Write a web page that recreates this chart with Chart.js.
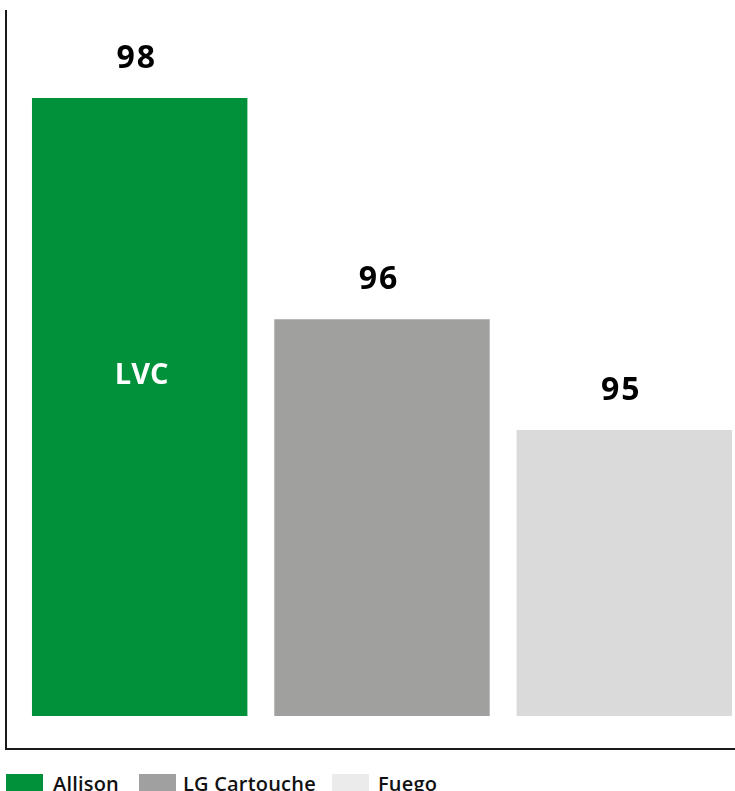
<!DOCTYPE html>
<html>
<head>
<meta charset="utf-8">
<script src="https://cdn.jsdelivr.net/npm/chart.js@4/dist/chart.umd.min.js"></script>
<style>
  html, body { margin: 0; padding: 0; background: #fff; overflow: hidden; }
  #frame { position: relative; width: 735px; height: 791px; overflow: hidden; }
  #plot { position: absolute; left: 0; top: 0; width: 758px; height: 760px; }
  .key { position: absolute; top: 774px; font: 600 20px 'Open Sans', sans-serif; color: #111; }
  .key i { position: absolute; left: 0; top: 0; width: 37px; height: 22px; }
  .key span { position: absolute; top: -1px; white-space: nowrap; line-height: 22px; letter-spacing: 0.2px; }
</style>
</head>
<body>
<div id="frame">
  <div id="plot"><canvas id="c"></canvas></div>
  <div id="legend"></div>
</div>
<script>
  // Brands compared, their scores and colours
  const SERIES = ["Allison", "LG Cartouche", "Fuego"];
  const SCORES = [98, 96, 95];
  const BAR_COLORS = ["#01913a", "#a0a09f", "#dadada"];
  const KEY_COLORS = ["#01913a", "#a0a0a0", "#ebebeb"];
  const INNER_LABEL = "LVC"; // printed inside the first bar

  // value-axis window: bars rise from a floor above the axis line
  const Y_MIN = 92.118, Y_MAX = 98.786, BAR_FLOOR = 92.416;
  const FONT = "'Open Sans', sans-serif";

  const valueLabels = {
    id: "valueLabels",
    afterDatasetsDraw(chart) {
      const { ctx } = chart;
      ctx.save();
      ctx.textAlign = "center";
      ctx.textBaseline = "alphabetic";
      chart.data.datasets.forEach((ds, i) => {
        const el = chart.getDatasetMeta(i).data[0];
        ctx.fillStyle = "#000";
        ctx.font = `700 32px ${FONT}`;
        ctx.letterSpacing = "2px";
        ctx.fillText(ds.data[0], el.x - 3, el.y - 30);
        ctx.letterSpacing = "0px";
        if (i === 0) {
          // centre label sits a bit above the middle of the bar
          const y = el.y + (el.base - el.y) * 0.447;
          ctx.fillStyle = "#fff";
          ctx.font = `700 29px ${FONT}`;
          ctx.textBaseline = "middle";
          ctx.fillText(INNER_LABEL, el.x + 2, y + 1);
          ctx.textBaseline = "alphabetic";
        }
      });
      ctx.restore();
    },
  };

  new Chart(document.getElementById("c"), {
    type: "bar",
    data: {
      labels: [""],
      datasets: SERIES.map((name, i) => ({
        label: name,
        data: [SCORES[i]],
        backgroundColor: BAR_COLORS[i],
        borderWidth: 0,
        base: BAR_FLOOR,
        categoryPercentage: 0.9667,
        barPercentage: 0.889,
      })),
    },
    options: {
      responsive: true,
      maintainAspectRatio: false,
      animation: false,
      layout: { padding: { left: 6, top: 11, right: 0, bottom: 11 } },
      plugins: { legend: { display: false }, tooltip: { enabled: false } },
      scales: {
        x: {
          grid: { display: false, drawTicks: false },
          ticks: { display: false },
          border: { display: true, color: "#1a1a1a", width: 2 },
        },
        y: {
          min: Y_MIN,
          max: Y_MAX,
          grid: { display: false, drawTicks: false },
          ticks: { display: false },
          border: { display: true, color: "#1a1a1a", width: 2 },
        },
      },
    },
    plugins: [valueLabels],
  });

  // legend row along the bottom edge
  const KEY_LEFT = [6, 139, 332];
  const TEXT_GAP = [47, 44, 46];
  const legend = document.getElementById("legend");
  SERIES.forEach((name, i) => {
    const item = document.createElement("div");
    item.className = "key";
    item.style.left = KEY_LEFT[i] + "px";
    item.innerHTML = `<i style="background:${KEY_COLORS[i]}"></i><span style="left:${TEXT_GAP[i]}px">${name}</span>`;
    legend.appendChild(item);
  });
</script>
</body>
</html>
